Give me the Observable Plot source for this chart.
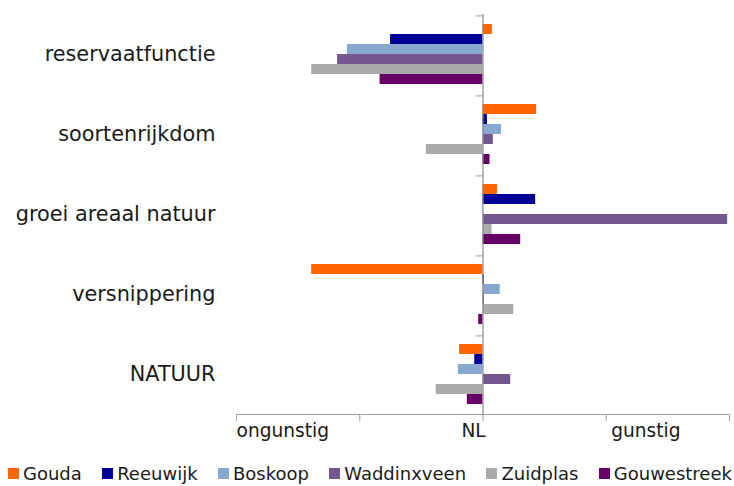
<!DOCTYPE html>
<html>
<head>
<meta charset="utf-8">
<script src="https://cdn.jsdelivr.net/npm/d3@7"></script>
<script src="https://cdn.jsdelivr.net/npm/@observablehq/plot@0.6"></script>
<style>
  html, body { margin: 0; padding: 0; background: #fff; }
  body { width: 734px; height: 486px; overflow: hidden; font-family: "DejaVu Sans", Verdana, sans-serif; }
  #legend { display: flex; justify-content: space-between; align-items: center; height: 26px; margin-left: 8px; width: 724px; font-size: 18px; color: #1a1a1a; white-space: nowrap; }
  #legend .item { display: flex; align-items: center; }
  #legend .sw { width: 11px; height: 11px; margin-right: 4px; }
</style>
</head>
<body>
<div id="chart"></div>
<div id="legend"></div>
<script>
const categories = ["reservaatfunctie", "soortenrijkdom", "groei areaal natuur", "versnippering", "NATUUR"];
const series = ["Gouda", "Reeuwijk", "Boskoop", "Waddinxveen", "Zuidplas", "Gouwestreek"];
const colors = ["#FF6600", "#000099", "#87A9CF", "#73578F", "#AAAAAA", "#660066"];

const gouda       = [0.076, 0.435, 0.117, -1.39, -0.19];
const reeuwijk    = [-0.75, 0.036, 0.427, 0.01, -0.067];
const boskoop     = [-1.10, 0.15, -0.005, 0.14, -0.20];
const waddinxveen = [-1.18, 0.084, 1.985, 0.012, 0.225];
const zuidplas    = [-1.39, -0.46, 0.073, 0.25, -0.38];
const gouwestreek = [-0.835, 0.057, 0.306, -0.035, -0.127];

const xTicks = [-2, -1, 0, 1, 2];
const axisLabels = ["ongunstig", "NL", "gunstig"];
const axisLabelPos = [-2, -0.175, 1.04];

const seriesValues = [gouda, reeuwijk, boskoop, waddinxveen, zuidplas, gouwestreek];
const data = [];
categories.forEach((c, ci) => {
  series.forEach((s, si) => data.push({category: c, series: s, value: seriesValues[si][ci]}));
});
const labelData = axisLabels.map((t, i) => ({text: t, x: axisLabelPos[i], category: categories[categories.length - 1]}));

const plot = Plot.plot({
  width: 734,
  height: 460,
  marginTop: 13,
  marginBottom: 46,
  marginLeft: 236,
  marginRight: 5,
  style: {fontFamily: "'DejaVu Sans', Verdana, sans-serif", fontSize: "18px", color: "#1a1a1a", background: "#fff"},
  x: {domain: [-2, 2], axis: null},
  y: {domain: series, paddingInner: 0, paddingOuter: 0.77, axis: null},
  fy: {domain: categories, padding: 0, label: null},
  color: {domain: series, range: colors},
  marks: [
    Plot.barX(data, {x: "value", y: "series", fy: "category", fill: "series"}),
    Plot.ruleX([0], {stroke: "#8c8c8c", strokeWidth: 1.2}),
    Plot.ruleY(categories, {fy: d => d, y: () => series[0], dy: -13.6, x1: -0.057, x2: 0, stroke: "#a0a0a0"}),
    Plot.frame({anchor: "bottom", stroke: "#a0a0a0", facetAnchor: "bottom"}),
    Plot.axisX({ticks: xTicks, tickSize: 7, tickFormat: () => "", stroke: "#a0a0a0", label: null}),
    Plot.axisFy({anchor: "left", tickSize: 0, tickPadding: 21, fontSize: 20.8, label: null, fill: "#1a1a1a"}),
    Plot.text(labelData, {x: "x", text: "text", fy: "category", frameAnchor: "bottom", dy: 22, textAnchor: "start", fontSize: 18.6, fill: "#1a1a1a"})
  ]
});
document.getElementById("chart").appendChild(plot);

const legend = document.getElementById("legend");
series.forEach((s, i) => {
  const item = document.createElement("div");
  item.className = "item";
  const sw = document.createElement("div");
  sw.className = "sw";
  sw.style.background = colors[i];
  const label = document.createElement("span");
  label.textContent = s;
  item.appendChild(sw);
  item.appendChild(label);
  legend.appendChild(item);
});
</script>
</body>
</html>
